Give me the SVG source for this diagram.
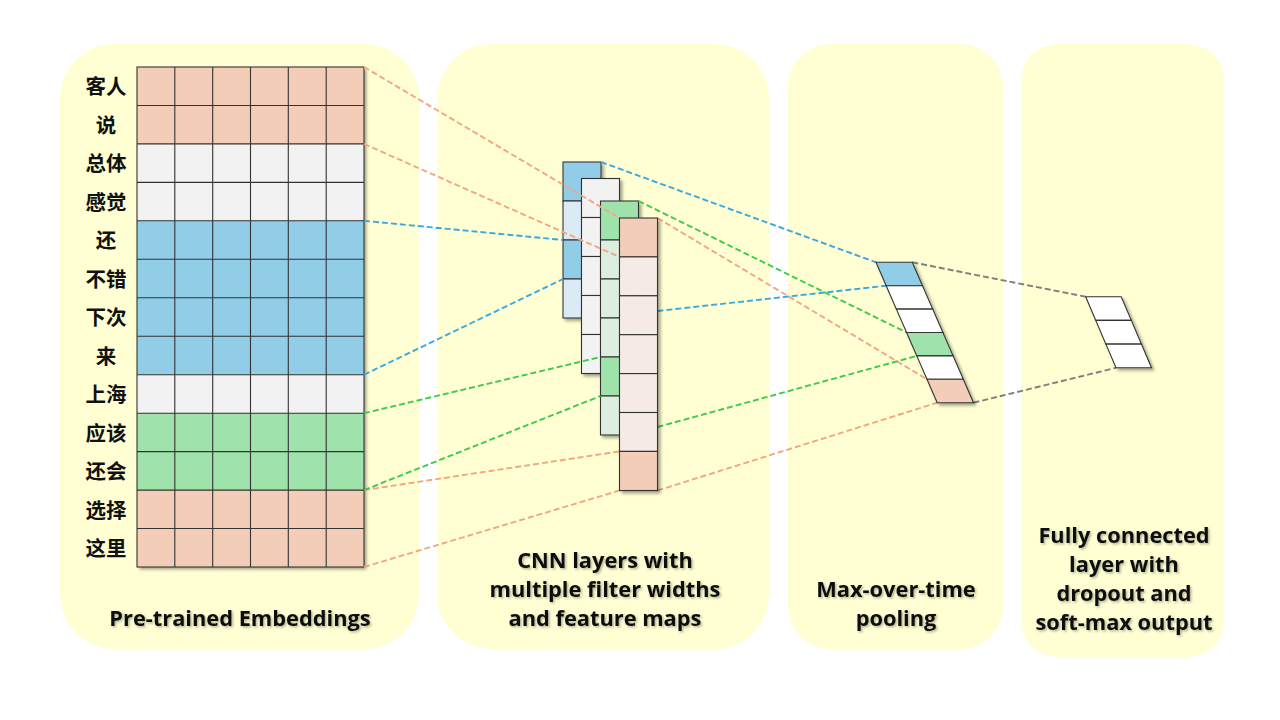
<svg xmlns="http://www.w3.org/2000/svg" width="1280" height="720" viewBox="0 0 1280 720">
<defs>
<filter id="sh" x="-20%" y="-20%" width="150%" height="150%">
<feDropShadow dx="2.5" dy="2.5" stdDeviation="1.5" flood-color="#000" flood-opacity="0.35"/>
</filter>
<filter id="tsh" x="-10%" y="-30%" width="120%" height="170%">
<feDropShadow dx="1.5" dy="1.5" stdDeviation="1" flood-color="#000" flood-opacity="0.3"/>
</filter>
</defs>
<style>
.panel{fill:#FFFFD3}
.s{fill:#F4CDB8}.g{fill:#F2F2F2}.b{fill:#92CDE8}.gr{fill:#A0E2AB}
.lb{fill:#DAEBF5}.lg{fill:#DCEFDE}.ps{fill:#F6EAE6}.w{fill:#FFFFFF}
.cell{stroke:#333333;stroke-width:1.1}
.grid{fill:none;stroke:#333333;stroke-width:1.1}
.cn{fill:none;stroke-width:1.9;stroke-dasharray:6 3}
.cs{stroke:#F4A582}.cb{stroke:#3AA8E0}.cg{stroke:#3CCB4C}.cy{stroke:#7F7F7F}
.zh{font-family:"Noto Sans CJK SC",sans-serif;font-weight:bold;font-size:20.5px;fill:#111;text-anchor:middle}
.lbl{font-family:"Open Sans","Noto Sans",sans-serif;font-weight:bold;font-size:21.8px;fill:#111;text-anchor:middle;filter:url(#tsh)}
</style>
<rect width="1280" height="720" fill="#FFFFFF"/>
<g id="panels">
<rect class="panel" x="60" y="44" width="359" height="605" rx="55"/>
<rect class="panel" x="437" y="44" width="332" height="605" rx="55"/>
<rect class="panel" x="788" y="44" width="215" height="605" rx="42"/>
<rect class="panel" x="1021" y="44" width="203" height="613" rx="36"/>
</g>
<g id="embeddings">
<g filter="url(#sh)">
<rect class="s" x="137" y="67" width="227" height="76.9"/>
<rect class="g" x="137" y="143.9" width="227" height="76.9"/>
<rect class="b" x="137" y="220.8" width="227" height="153.9"/>
<rect class="g" x="137" y="374.7" width="227" height="38.5"/>
<rect class="gr" x="137" y="413.2" width="227" height="76.9"/>
<rect class="s" x="137" y="490.1" width="227" height="76.9"/>
</g>
<path class="grid" d="M174.8,67V567M212.7,67V567M250.5,67V567M288.3,67V567M326.2,67V567M137,105.5H364M137,143.9H364M137,182.4H364M137,220.8H364M137,259.3H364M137,297.8H364M137,336.2H364M137,374.7H364M137,413.2H364M137,451.6H364M137,490.1H364M137,528.5H364"/>
<rect class="grid" x="137" y="67" width="227" height="500"/>
<g id="words">
<text class="zh" x="106" y="94">客人</text>
<text class="zh" x="106" y="133">说</text>
<text class="zh" x="106" y="171">总体</text>
<text class="zh" x="106" y="210">感觉</text>
<text class="zh" x="106" y="248">还</text>
<text class="zh" x="106" y="287">不错</text>
<text class="zh" x="106" y="325">下次</text>
<text class="zh" x="106" y="364">来</text>
<text class="zh" x="106" y="402">上海</text>
<text class="zh" x="106" y="441">应该</text>
<text class="zh" x="106" y="479">还会</text>
<text class="zh" x="106" y="518">选择</text>
<text class="zh" x="106" y="556">这里</text>
</g>
</g>
<g id="map1" filter="url(#sh)">
<rect class="b cell" x="563" y="162" width="38" height="39"/>
<rect class="lb cell" x="563" y="201" width="38" height="39"/>
<rect class="b cell" x="563" y="240" width="38" height="39"/>
<rect class="lb cell" x="563" y="279" width="38" height="39"/>
</g>
<g id="map2" filter="url(#sh)">
<rect class="g cell" x="581.5" y="178.5" width="38" height="39"/>
<rect class="g cell" x="581.5" y="217.5" width="38" height="39"/>
<rect class="g cell" x="581.5" y="256.5" width="38" height="39"/>
<rect class="g cell" x="581.5" y="295.5" width="38" height="39"/>
<rect class="g cell" x="581.5" y="334.5" width="38" height="39"/>
</g>
<g id="map3" filter="url(#sh)">
<rect class="gr cell" x="600.5" y="201" width="38" height="39"/>
<rect class="lg cell" x="600.5" y="240" width="38" height="39"/>
<rect class="lg cell" x="600.5" y="279" width="38" height="39"/>
<rect class="lg cell" x="600.5" y="318" width="38" height="39"/>
<rect class="gr cell" x="600.5" y="357" width="38" height="39"/>
<rect class="lg cell" x="600.5" y="396" width="38" height="39"/>
</g>
<g id="connectors">
<line class="cn cs" x1="364" y1="67" x2="619.5" y2="218"/>
<line class="cn cs" x1="657.5" y1="218" x2="927" y2="379.3"/>
<line class="cn cs" x1="364" y1="143.9" x2="619.5" y2="257"/>
<line class="cn cs" x1="364" y1="490.1" x2="619.5" y2="451.4"/>
<line class="cn cs" x1="364" y1="567" x2="619.5" y2="490.5"/>
<line class="cn cs" x1="657.5" y1="490.5" x2="937.2" y2="402.7"/>
<line class="cn cb" x1="364" y1="220.8" x2="563" y2="240"/>
<line class="cn cb" x1="364" y1="374.7" x2="563" y2="279"/>
<line class="cn cb" x1="601" y1="162" x2="876" y2="262.3"/>
<line class="cn cb" x1="657.5" y1="311" x2="886.2" y2="285.7"/>
<line class="cn cg" x1="364" y1="413.2" x2="600.5" y2="357"/>
<line class="cn cg" x1="364" y1="490.1" x2="600.5" y2="396"/>
<line class="cn cg" x1="638.5" y1="201" x2="906.6" y2="332.5"/>
<line class="cn cg" x1="657.5" y1="427" x2="916.8" y2="355.9"/>
<line class="cn cy" x1="912.3" y1="262.3" x2="1085.7" y2="296.7"/>
<line class="cn cy" x1="973.5" y1="402.7" x2="1116" y2="367.8"/>
</g>
<g id="map4" filter="url(#sh)">
<rect class="s cell" x="619.5" y="218" width="38" height="38.9"/>
<rect class="ps cell" x="619.5" y="256.9" width="38" height="38.9"/>
<rect class="ps cell" x="619.5" y="295.8" width="38" height="38.9"/>
<rect class="ps cell" x="619.5" y="334.7" width="38" height="38.9"/>
<rect class="ps cell" x="619.5" y="373.6" width="38" height="38.9"/>
<rect class="ps cell" x="619.5" y="412.5" width="38" height="38.9"/>
<rect class="s cell" x="619.5" y="451.4" width="38" height="39.1"/>
</g>
<g id="pooling" filter="url(#sh)">
<polygon class="b cell" points="876,262.3 912.3,262.3 922.5,285.7 886.2,285.7"/>
<polygon class="w cell" points="886.2,285.7 922.5,285.7 932.7,309.1 896.4,309.1"/>
<polygon class="w cell" points="896.4,309.1 932.7,309.1 942.9,332.5 906.6,332.5"/>
<polygon class="gr cell" points="906.6,332.5 942.9,332.5 953.1,355.9 916.8,355.9"/>
<polygon class="w cell" points="916.8,355.9 953.1,355.9 963.3,379.3 927,379.3"/>
<polygon class="s cell" points="927,379.3 963.3,379.3 973.5,402.7 937.2,402.7"/>
</g>
<g id="output" filter="url(#sh)">
<polygon class="w cell" points="1085.7,296.7 1121.2,296.7 1131.3,320.4 1095.8,320.4"/>
<polygon class="w cell" points="1095.8,320.4 1131.3,320.4 1141.4,344.1 1105.9,344.1"/>
<polygon class="w cell" points="1105.9,344.1 1141.4,344.1 1151.5,367.8 1116,367.8"/>
</g>
<g id="labels">
<text class="lbl" x="240" y="626">Pre-trained Embeddings</text>
<text class="lbl" x="605" y="568">CNN layers with</text>
<text class="lbl" x="605" y="597">multiple filter widths</text>
<text class="lbl" x="605" y="626">and feature maps</text>
<text class="lbl" x="896" y="597">Max-over-time</text>
<text class="lbl" x="896" y="626">pooling</text>
<text class="lbl" x="1124" y="543">Fully connected</text>
<text class="lbl" x="1124" y="572">layer with</text>
<text class="lbl" x="1124" y="601">dropout and</text>
<text class="lbl" x="1124" y="630">soft-max output</text>
</g>
</svg>
